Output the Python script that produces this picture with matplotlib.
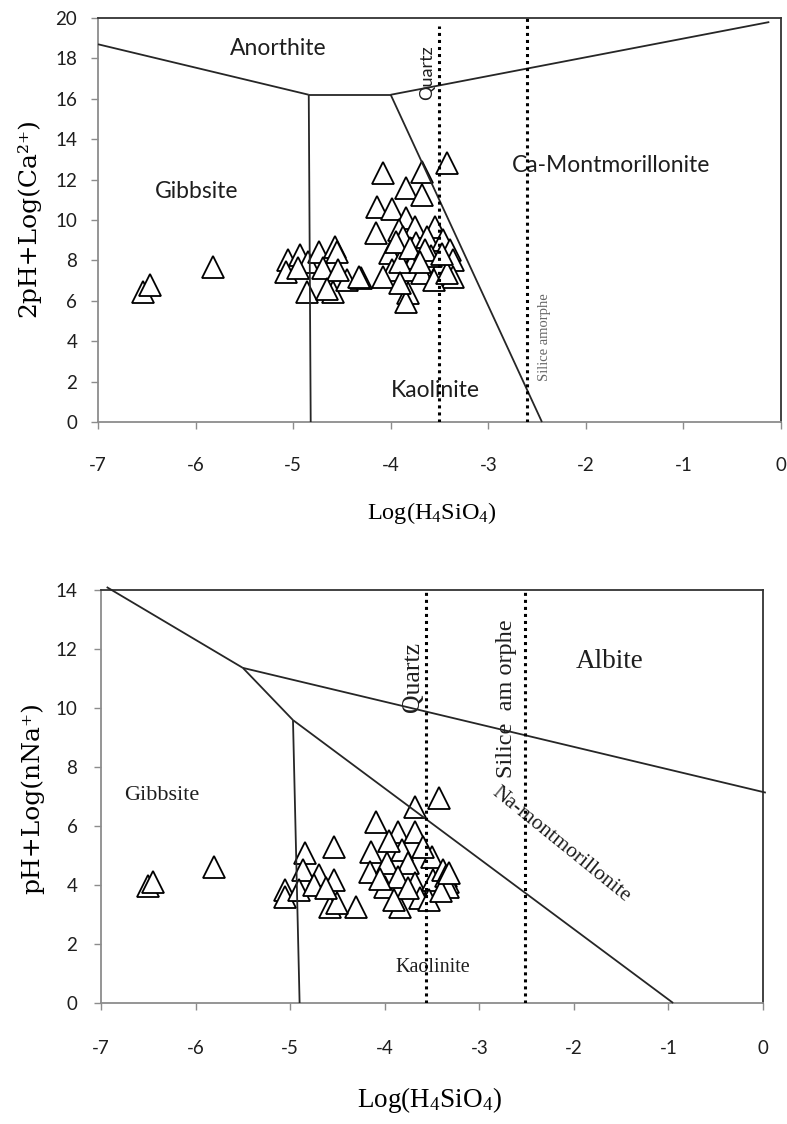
import matplotlib
matplotlib.use("Agg")
import matplotlib.pyplot as plt

plt.rcParams["mathtext.default"] = "regular"

# ---------------- data: top diagram (Ca system) ----------------
top_x = [-6.54, -6.47, -5.82,
         -5.05, -5.07, -4.93, -4.85, -4.86, -4.74, -4.69, -4.57, -4.55, -4.59, -4.45, -4.30, -4.54, -4.95, -4.65,
         -4.08, -3.68, -3.42, -3.84, -3.68, -4.14, -3.99, -4.15, -3.84, -3.91, -3.75, -3.55, -3.87, -3.74, -3.63,
         -3.46, -3.39, -3.36, -4.01, -3.99, -3.82, -3.68, -3.50, -3.36, -3.82, -3.84, -4.32, -4.08, -3.56, -3.42,
         -3.59, -3.75, -3.90, -3.95, -3.80, -3.65, -3.47, -3.70, -3.90]
top_y = [6.45, 6.78, 7.69,
         8.02, 7.44, 8.27, 7.94, 6.45, 8.43, 7.61, 8.68, 8.43, 6.45, 7.03, 7.11, 7.52, 7.60, 6.60,
         12.31, 12.39, 12.80, 11.57, 11.24, 10.62, 10.55, 9.34, 10.12, 9.50, 9.67, 9.63, 9.17, 8.85, 9.17,
         9.00, 8.51, 8.02, 8.35, 7.52, 7.52, 7.36, 7.69, 7.20, 6.37, 5.95, 7.20, 7.20, 7.03, 7.40,
         8.20, 8.10, 7.90, 8.90, 8.60, 8.50, 8.30, 7.90, 6.90]

# stability-field boundaries (top)
top_anor_left_x = [-7.0, -4.84]
top_anor_left_y = [18.7, 16.2]
top_mid_x = [-4.84, -4.0]
top_mid_y = [16.2, 16.2]
top_gibb_kaol_x = [-4.84, -4.82]
top_gibb_kaol_y = [16.2, 0.0]
top_anor_right_x = [-4.0, -0.12]
top_anor_right_y = [16.2, 19.8]
top_kaol_mont_x = [-4.0, -2.45]
top_kaol_mont_y = [16.2, 0.0]
top_quartz_x = -3.51
top_quartz_ytop = 19.6
top_silice_x = -2.60

# ---------------- data: bottom diagram (Na system) ----------------
bot_x = [-6.50, -6.45, -5.81,
         -5.05, -5.05, -4.84, -4.86, -4.54, -4.70, -4.54, -4.58, -4.30, -4.91, -4.50, -4.75, -4.62,
         -4.09, -3.86, -3.68, -3.68, -3.43, -4.14, -4.16, -3.98, -3.82, -3.75, -3.50, -4.00, -3.86, -3.68,
         -3.49, -3.38, -3.35, -3.33, -3.33, -3.84, -3.63, -3.53, -3.40, -4.05, -3.95, -3.60, -3.75, -3.90, -3.32]
bot_y = [3.95, 4.11, 4.62,
         3.83, 3.60, 5.07, 4.51, 5.30, 4.34, 4.17, 3.26, 3.26, 3.83, 3.40, 4.00, 3.90,
         6.15, 5.81, 5.81, 6.65, 6.94, 5.13, 4.45, 4.73, 5.19, 4.73, 4.96, 3.94, 4.28, 4.06,
         4.17, 4.51, 4.30, 4.10, 3.94, 3.26, 3.55, 3.50, 3.80, 4.20, 5.50, 5.30, 3.90, 3.50, 4.40]

bot_gibb_albite_x = [-6.94, -5.50]
bot_gibb_albite_y = [14.1, 11.36]
bot_mont_albite_x = [-5.50, 0.03]
bot_mont_albite_y = [11.36, 7.13]
bot_gibb_mont_x = [-5.50, -4.97]
bot_gibb_mont_y = [11.36, 9.59]
bot_gibb_kaol_x = [-4.97, -4.90]
bot_gibb_kaol_y = [9.59, 0.0]
bot_kaol_mont_x = [-4.97, -0.95]
bot_kaol_mont_y = [9.59, 0.0]
bot_quartz_x = -3.56
bot_silice_x = -2.52

xticks = [-7, -6, -5, -4, -3, -2, -1, 0]
top_yticks = list(range(0, 21, 2))
bot_yticks = list(range(0, 15, 2))

SANS = ["Lato", "DejaVu Sans"]
SERIF = ["Liberation Serif", "DejaVu Serif"]
WIDE_SERIF = ["DejaVu Serif"]
LINE_C = "#262626"
AX_GRAY = "#8c8c8c"
TXT = "#1e1e1e"

W, H = 787, 1124
fig = plt.figure(figsize=(W / 100, H / 100), dpi=100)


def px_axes(l, t, r, b):
    return fig.add_axes([l / W, 1 - b / H, (r - l) / W, (b - t) / H])


def style_axes(ax, ylim, yticks, xpad, ypad):
    ax.set_xlim(-7, 0)
    ax.set_ylim(*ylim)
    ax.set_xticks(xticks)
    ax.set_yticks(yticks)
    ax.set_xticklabels([str(v) for v in xticks], fontfamily=SANS, fontsize=13.5, color=TXT)
    ax.set_yticklabels([str(v) for v in yticks], fontfamily=SANS, fontsize=13.5, color=TXT)
    ax.tick_params(axis="x", direction="out", length=5, width=1, color=AX_GRAY, pad=xpad)
    ax.tick_params(axis="y", direction="out", length=5, width=1, color=AX_GRAY, pad=ypad)
    ax.spines["left"].set_color(AX_GRAY)
    ax.spines["bottom"].set_color(AX_GRAY)
    ax.spines["top"].set_color("#333333")
    ax.spines["right"].set_color("#333333")
    for s in ax.spines.values():
        s.set_linewidth(1.3)


def scatter(ax, xs, ys):
    ax.plot(xs, ys, linestyle="none", marker="^", markersize=16.5,
            markerfacecolor="white", markeredgecolor="black", markeredgewidth=1.3, zorder=3)


def seg(ax, xs, ys):
    ax.plot(xs, ys, color=LINE_C, lw=1.3, zorder=4, clip_on=False, solid_capstyle="butt")


def dotted(ax, x, ytop):
    ax.plot([x, x], [0, ytop], color="black", lw=2.2, linestyle=(0, (1, 1.3)), zorder=4)


# ---------------- top panel ----------------
ax1 = px_axes(98, 18, 781, 422)
style_axes(ax1, (0, 20), top_yticks, xpad=20, ypad=10)
scatter(ax1, top_x, top_y)
seg(ax1, top_anor_left_x, top_anor_left_y)
seg(ax1, top_mid_x, top_mid_y)
seg(ax1, top_gibb_kaol_x, top_gibb_kaol_y)
seg(ax1, top_anor_right_x, top_anor_right_y)
seg(ax1, top_kaol_mont_x, top_kaol_mont_y)
dotted(ax1, top_quartz_x, top_quartz_ytop)
dotted(ax1, top_silice_x, 20)

ax1.text(-5.15, 18.5, "Anorthite", fontfamily=SANS, fontsize=16.5, ha="center", va="center", color=TXT)
ax1.text(-5.99, 11.4, "Gibbsite", fontfamily=SANS, fontsize=16.5, ha="center", va="center", color=TXT)
ax1.text(-1.74, 12.7, "Ca-Montmorillonite", fontfamily=SANS, fontsize=16.5, ha="center", va="center", color=TXT)
ax1.text(-3.54, 1.58, "Kaolinite", fontfamily=SANS, fontsize=16.5, ha="center", va="center", color=TXT)
ax1.text(-3.63, 17.3, "Quartz", fontfamily=SANS, fontsize=13, rotation=90, ha="center", va="center", color=TXT)
ax1.text(-2.42, 4.2, "Silice amorphe", fontfamily=SERIF, fontsize=10.5, rotation=90, ha="center", va="center",
         color="#666666")

fig.text(432 / W, 1 - 513 / H, "Log(H$_4$SiO$_4$)", fontfamily=SERIF, fontsize=17.5, ha="center", va="center")
fig.text(28 / W, 1 - 218 / H, "2pH+Log(Ca²⁺)", fontfamily=WIDE_SERIF, fontsize=18, rotation=90,
         ha="center", va="center")

# ---------------- bottom panel ----------------
ax2 = px_axes(101, 590, 763, 1003)
style_axes(ax2, (0, 14), bot_yticks, xpad=22, ypad=12)
scatter(ax2, bot_x, bot_y)
seg(ax2, bot_gibb_albite_x, bot_gibb_albite_y)
seg(ax2, bot_mont_albite_x, bot_mont_albite_y)
seg(ax2, bot_gibb_mont_x, bot_gibb_mont_y)
seg(ax2, bot_gibb_kaol_x, bot_gibb_kaol_y)
seg(ax2, bot_kaol_mont_x, bot_kaol_mont_y)
dotted(ax2, bot_quartz_x, 14)
dotted(ax2, bot_silice_x, 14)

ax2.text(-1.62, 11.57, "Albite", fontfamily=SERIF, fontsize=19.5, ha="center", va="center", color=TXT)
ax2.text(-6.36, 7.05, "Gibbsite", fontfamily=SERIF, fontsize=16, ha="center", va="center", color=TXT)
ax2.text(-3.49, 1.19, "Kaolinite", fontfamily=SERIF, fontsize=14.5, ha="center", va="center", color=TXT)
ax2.text(-3.70, 11.06, "Quartz", fontfamily=SERIF, fontsize=18.5, rotation=90, ha="center", va="center",
         color=TXT)
ax2.text(-2.71, 10.3, "Silice  am orphe", fontfamily=SERIF, fontsize=17.5, rotation=90, ha="center",
         va="center", color=TXT)
ax2.text(-2.13, 5.36, "Na-montmorillonite", fontfamily=SERIF, fontsize=15.5, rotation=-39, ha="center",
         va="center", color=TXT, rotation_mode="anchor")

fig.text(430 / W, 1 - 1100 / H, "Log(H$_4$SiO$_4$)", fontfamily=SERIF, fontsize=19.5, ha="center", va="center")
fig.text(32 / W, 1 - 798 / H, "pH+Log(nNa⁺)", fontfamily=WIDE_SERIF, fontsize=18, rotation=90,
         ha="center", va="center")

fig.savefig("out.png", dpi=100, facecolor="white")
